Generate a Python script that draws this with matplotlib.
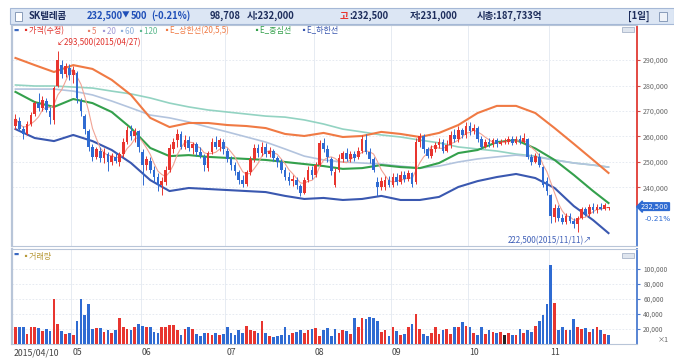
import numpy as np
import pandas as pd
import matplotlib
matplotlib.use('Agg')
import matplotlib.pyplot as plt
from matplotlib.patches import Rectangle
from matplotlib.transforms import blended_transform_factory

plt.rcParams['font.family'] = ['Noto Sans CJK KR', 'DejaVu Sans']

W, H = 674, 360

# trading days (KRX holidays removed)
holidays = ['2015-05-01', '2015-05-05', '2015-05-25', '2015-08-14',
            '2015-09-28', '2015-09-29', '2015-10-09']
dates = pd.bdate_range('2015-04-10', '2015-11-23')
dates = dates[~dates.isin(pd.to_datetime(holidays))]

# daily prices, thousand won
opens = [264, 266, 263, 261, 265, 269, 273, 271, 274, 270,
         266.5, 280, 288, 284.5, 287, 284, 285, 274, 268, 262,
         256, 252, 254.5, 251.5, 253, 250, 252, 250, 253, 258,
         262, 260, 262, 254, 249, 250.5, 247, 244, 241, 242,
         247, 255, 258.5, 261, 256, 258.5, 255.5, 257, 254, 252,
         247.5, 254, 258, 256, 258, 254.5, 251, 249, 246, 243,
         241.5, 246, 251, 255.5, 253.5, 256, 253, 254.5, 251.5, 250,
         247, 244, 242.5, 243, 240.5, 238, 243, 247, 245, 249,
         257.5, 255, 251, 241, 247, 251, 253.5, 251, 253, 252,
         254.5, 258.5, 254, 251, 242, 240, 240, 243, 241, 244,
         242, 245, 243.5, 245.5, 242, 258, 260, 255, 252.5, 255,
         256.5, 258, 254.5, 256.5, 260.5, 259, 262.5, 260.5, 264, 262,
         263.5, 259, 256, 258, 257, 258.5, 257, 258, 258, 259,
         257.5, 259, 258, 259, 252, 250, 252, 248, 242.5, 237,
         228.5, 232, 228, 226.5, 229, 227, 225.5, 228, 231.5, 229.5,
         232.5, 231, 232.5, 231.5, 232]
highs = [269, 267.5, 264, 266, 269.5, 274, 277, 276, 275, 271.5,
         280, 293.5, 290, 289, 288.5, 287.5, 285.5, 275, 269, 263,
         257, 256, 256, 255.5, 254, 253.5, 254, 254, 259.5, 264,
         264.5, 263.5, 262.5, 255, 252.5, 252, 248.5, 245.5, 244, 248.5,
         257, 259.5, 263, 262, 260.5, 260, 258, 258, 256, 253,
         254.5, 259.5, 260, 259.5, 259, 255.5, 252.5, 250, 247, 245,
         247, 252.5, 257, 257, 258, 257.5, 256, 255, 252.5, 251,
         248, 246, 245, 244, 241.5, 244, 248.5, 248.5, 250, 258.5,
         259.5, 256.5, 252, 247.5, 253, 254.5, 255.5, 254.5, 254.5, 256,
         260.5, 261, 255.5, 252, 244, 244, 244.5, 244.5, 245.5, 245.5,
         246.5, 246.5, 247, 246, 259.5, 261.5, 261, 256, 256.5, 258,
         259.5, 259, 258.5, 262, 263, 264, 263.5, 265.5, 265.5, 265,
         264, 260, 259, 259.5, 259.5, 259.5, 259, 259.5, 260, 260,
         260, 260.5, 261.5, 259.5, 253, 253.5, 253.5, 248.5, 244, 237.5,
         233.5, 233, 229.5, 230, 230, 228, 229, 232.5, 232.5, 233.5,
         234, 233.5, 234, 234, 232.5]
lows = [263, 262, 259, 260.5, 264, 268, 270, 270, 269.5, 265,
        265, 279.5, 283, 283.5, 282, 281, 273, 268, 261, 254.5,
        250.5, 251, 250, 249.5, 246.5, 249, 249.5, 248.5, 252, 257,
        258.5, 258, 254, 241, 247, 245.5, 242, 238.5, 237, 241,
        246, 253.5, 256, 255, 255, 254.5, 253, 252.5, 251.5, 246.5,
        246.5, 253, 255, 254.5, 253, 250, 247, 245, 241.5, 240,
        240.5, 245, 250, 252, 252.5, 252, 252, 250.5, 248, 245.5,
        243, 241, 240.5, 239.5, 236.5, 237.5, 242, 243.5, 244, 248.5,
        254, 250, 245, 240, 246, 250, 250.5, 250, 250.5, 251,
        253.5, 253, 249.5, 246, 236.5, 239, 239, 240, 240, 241,
        241.5, 242, 242.5, 240, 241.5, 256, 253.5, 251.5, 251.5, 254,
        255.5, 253.5, 254, 255.5, 258, 258, 259.5, 259.5, 260.5, 261,
        258, 255, 255.5, 256, 256, 256, 256.5, 257, 257, 256.5,
        257, 257, 257.5, 251, 249, 249.5, 248, 240, 237, 226,
        226.5, 227, 225.5, 225.5, 226, 224, 222.5, 227.5, 229, 229,
        230, 230, 231, 231, 231]
closes = [267, 263, 261, 265, 268.5, 273, 271, 274.5, 270.5, 267.5,
          279, 290, 284.5, 287.5, 284, 286, 275, 270, 263, 256,
          252, 255, 251.5, 254, 250, 252.5, 250.5, 253, 258, 262.5,
          260, 262, 256, 249, 251, 247, 244, 241, 242.5, 247,
          255.5, 258, 261, 256, 258.5, 255.5, 257, 254, 252.5, 249,
          253.5, 258, 256, 258.5, 255, 251, 249, 246.5, 243, 241.5,
          246, 251, 255.5, 253.5, 256, 253, 254.5, 251.5, 250, 247,
          244, 242.5, 243.5, 241, 238, 243, 247, 245, 249, 257.5,
          255, 252, 246.5, 246, 251.5, 253.5, 251, 253, 251.5, 254.5,
          259, 254, 251, 247, 240, 242.5, 243, 241, 244, 242,
          245, 243.5, 245.5, 241.5, 258, 260, 255, 252.5, 255, 256.5,
          258, 254.5, 256.5, 260.5, 259, 262.5, 260.5, 264, 262, 263.5,
          259, 256, 258, 257, 258.5, 257, 258, 258, 259, 257.5,
          259, 258, 259.5, 252, 250, 252.5, 249, 241, 238.5, 229,
          232, 228, 226.5, 229, 227, 225.5, 228, 231.5, 229.5, 232.5,
          231, 232.5, 231.5, 233, 232.5]

# volume, thousand shares
volumes = [22, 23, 23, 13, 22, 22, 21, 17, 20, 17,
           60, 27, 17, 13, 14, 12, 30, 60, 38, 53,
           20, 21, 21, 16, 19, 15, 18, 35, 23, 20,
           19, 23, 26, 24, 22, 22, 16, 14, 23, 23,
           25, 25, 19, 12, 20, 23, 20, 13, 10, 14,
           14, 12, 15, 12, 13, 22, 14, 12, 19, 14,
           24, 18, 17, 15, 30, 14, 11, 9, 10, 12,
           22, 12, 14, 16, 19, 14, 19, 20, 21, 11,
           18, 21, 11, 20, 14, 18, 17, 13, 35, 22,
           34, 33, 36, 34, 31, 16, 18, 10, 22, 17,
           12, 13, 22, 27, 40, 20, 13, 10, 14, 22,
           13, 18, 20, 13, 23, 22, 29, 24, 22, 15,
           12, 22, 13, 18, 16, 14, 16, 12, 14, 12,
           12, 20, 14, 19, 16, 24, 31, 38, 53, 105,
           55, 19, 23, 18, 18, 33, 22, 20, 21, 16,
           20, 23, 18, 13, 12]

# indicator lines read every 5 sessions (thousand won)
line_idx = list(range(0, 155, 5)) + [154]
env_upper = [290.8, 288.0, 285.3, 288.0, 286.5, 282.2, 276.3, 267.3, 263.7, 265.3,
             265.3, 264.5, 264.1, 263.3, 261.0, 260.2, 261.4, 259.8, 260.2, 261.8,
             261.0, 259.8, 261.4, 264.5, 269.2, 272.0, 272.0, 269.2, 263.3, 257.1,
             250.8, 245.7]
env_mid = [277.5, 273.5, 271.6, 274.7, 273.1, 269.6, 263.3, 255.5, 252.3, 252.7,
           252.0, 251.6, 251.2, 250.8, 250.0, 249.2, 248.4, 247.3, 247.6, 248.8,
           248.0, 247.6, 249.6, 253.5, 254.7, 257.8, 258.6, 255.3, 250.8, 244.9,
           238.6, 233.9]
env_lower = [262.9, 259.4, 258.2, 260.6, 258.2, 254.7, 249.6, 242.9, 238.6, 239.8,
             239.4, 239.0, 238.6, 238.2, 236.7, 235.5, 235.9, 235.1, 235.5, 236.7,
             235.1, 235.1, 236.3, 240.2, 242.5, 244.1, 245.3, 243.7, 239.8, 232.7,
             227.2, 222.1]
ma60 = [278.6, 278.6, 278.6, 277.8, 276.3, 273.9, 271.2, 268.4, 267.3, 265.7,
        263.7, 261.8, 259.8, 257.8, 255.1, 252.3, 250.8, 250.0, 249.6, 249.2,
        248.4, 247.6, 248.4, 250.0, 251.2, 252.0, 252.7, 252.0, 250.8, 249.6,
        248.8, 248.0]
ma120 = [280.2, 279.8, 279.8, 279.4, 279.0, 277.8, 276.7, 275.1, 273.1, 271.6,
         270.4, 269.6, 268.8, 268.0, 267.6, 266.5, 264.9, 262.9, 261.8, 260.6,
         259.8, 258.6, 257.5, 255.9, 255.1, 254.3, 253.1, 252.3, 250.8, 249.6,
         248.8, 248.0]

price_ticks = [240000, 250000, 260000, 270000, 280000, 290000]
vol_ticks = [20000, 40000, 60000, 80000, 100000]

UP = '#e8352f'
DN = '#2f6bd2'


def fx(px):
    return px / W


def fy(py):
    return 1 - py / H


def main():
    o = np.array(opens) * 1000
    h = np.array(highs) * 1000
    l = np.array(lows) * 1000
    c = np.array(closes) * 1000
    v = np.array(volumes) * 1000
    x = np.arange(len(c))
    ma5 = pd.Series(c).rolling(5, min_periods=1).mean()

    fig = plt.figure(figsize=(W / 100, H / 100), dpi=100)
    fig.patch.set_facecolor('white')

    # header bar
    fig.patches.append(Rectangle((fx(10), fy(24)), 664 / W, 16 / H, transform=fig.transFigure,
                                 facecolor='#dce6f4', edgecolor='#a5b8d6', lw=0.8))
    fig.patches.append(Rectangle((fx(15), fy(21)), 7 / W, 9 / H, transform=fig.transFigure,
                                 facecolor='white', edgecolor='#7a8fb0', lw=0.6))

    def put(px, py, s, **kw):
        kw.setdefault('va', 'center')
        fig.text(fx(px), fy(py), s, **kw)

    hk = dict(fontsize=6.8, fontweight='bold', color='#1d2d5c')
    put(29, 16, 'SK텔레콤', **hk)
    put(87, 16, '232,500', fontsize=6.8, fontweight='bold', color='#1f4fb8')
    put(122, 16, '▼', fontsize=5.5, color='#1f4fb8')
    put(131, 16, '500', fontsize=6.8, fontweight='bold', color='#1f4fb8')
    put(151, 16, '(-0.21%)', fontsize=6.8, fontweight='bold', color='#1f4fb8')
    put(210, 16, '98,708', **hk)
    put(247, 16, '시:232,000', **hk)
    put(340, 16, '고', fontsize=6.8, fontweight='bold', color='#e8352f')
    put(349, 16, ':232,500', **hk)
    put(410, 16, '저:231,000', **hk)
    put(477, 16, '시총:187,733억', **hk)
    put(628, 16, '[1일]', **hk)
    fig.patches.append(Rectangle((fx(659), fy(21)), 8 / W, 9 / H, transform=fig.transFigure,
                                 facecolor='#eef2f8', edgecolor='#7a8fb0', lw=0.6))

    month_pos = [i - 0.5 for i in range(1, len(dates)) if dates[i].month != dates[i - 1].month]
    xlim = (-0.9, 161.4)

    # price panel
    ax = fig.add_axes([fx(12), fy(246), (637 - 12) / W, (246 - 25) / H])
    ax.set_xlim(*xlim)
    ax.set_ylim(217050, 303730)
    for yt in price_ticks:
        ax.axhline(yt, color='#e2e7ef', lw=0.6, ls=(0, (2, 2)), zorder=0)
    for mp in month_pos:
        ax.axvline(mp, color='#e6ebf2', lw=0.7, zorder=0)

    ax.plot(line_idx, np.array(ma120) * 1000, color='#93d3c2', lw=1.2, zorder=1)
    ax.plot(line_idx, np.array(ma60) * 1000, color='#b3c4de', lw=1.2, zorder=1)
    ax.plot(line_idx, np.array(env_upper) * 1000, color='#f07a44', lw=1.5, zorder=2)
    ax.plot(line_idx, np.array(env_mid) * 1000, color='#34a04c', lw=1.5, zorder=2)
    ax.plot(line_idx, np.array(env_lower) * 1000, color='#3a58b0', lw=1.5, zorder=2)
    ax.plot(x, ma5, color='#f1a394', lw=0.8, zorder=3)

    cols = np.where(c >= o, UP, DN)
    ax.vlines(x, l, h, colors=cols, lw=0.7, zorder=4)
    body = np.maximum(np.abs(c - o), 250)
    ax.bar(x, body, bottom=np.minimum(o, c), width=0.7, color=cols, zorder=5)

    ax.yaxis.tick_right()
    ax.set_yticks(price_ticks)
    ax.set_yticklabels([f'{t:,}' for t in price_ticks])
    ax.tick_params(axis='y', length=2, pad=2.5, labelsize=5.1, labelcolor='#666666', color='#c8504a')
    ax.set_xticks([])
    for s in ['top', 'left', 'bottom']:
        ax.spines[s].set_color('#b8c5d8')
    ax.spines['left'].set_linewidth(1.6)
    ax.spines['right'].set_visible(False)
    tr = blended_transform_factory(ax.transAxes, ax.transData)
    ax.plot([1, 1], [closes[-1] * 1000, 303730], color='#e03a34', lw=1.3, transform=tr, clip_on=False)
    ax.plot([1, 1], [217050, closes[-1] * 1000], color='#4a7bd0', lw=1.3, transform=tr, clip_on=False)
    ax.text(1.006, closes[-1] * 1000, '232,500', transform=tr, fontsize=4.9, color='white',
            va='center', ha='left', family='DejaVu Sans',
            bbox=dict(boxstyle='larrow,pad=0.12', fc='#2f6bd2', ec='#2f6bd2'))
    ax.text(1.012, closes[-1] * 1000 - 4700, '-0.21%', transform=tr, fontsize=5.3,
            color='#2f6bd2', va='center', ha='left', family='DejaVu Sans')

    # legend
    lk = dict(fontsize=5.8, va='center')
    put(13, 30, '▬', fontsize=4, color='#3a68c0')
    items = [(21, '▪가격(수정)', '#e0302a'), (84, '▪5', '#e8806a'), (99, '▪20', '#a29ad6'),
             (117, '▪60', '#8fb0dc'), (136, '▪120', '#5cb98e'),
             (162, '▪E_상한선(20,5,5)', '#f07a44'), (252, '▪E_중심선', '#34a04c'),
             (299, '▪E_하한선', '#3a58b0')]
    for px, s, col in items:
        put(px, 31, s, color=col, **lk)
    put(57, 43, '↙293,500(2015/04/27)', color='#e0302a', **lk)
    put(592, 241, '222,500(2015/11/11)↗', color='#4060b8', ha='right', **lk)
    fig.patches.append(Rectangle((fx(622), fy(32)), 12 / W, 5 / H, transform=fig.transFigure,
                                 facecolor='#dfe5ee', edgecolor='#9aa8c0', lw=0.5))

    # volume panel
    axv = fig.add_axes([fx(12), fy(344), (637 - 12) / W, (344 - 249) / H])
    axv.set_xlim(*xlim)
    axv.set_ylim(0, 126600)
    for yt in vol_ticks:
        axv.axhline(yt, color='#e2e7ef', lw=0.6, ls=(0, (2, 2)), zorder=0)
    for mp in month_pos:
        axv.axvline(mp, color='#e6ebf2', lw=0.7, zorder=0)
    prev = np.r_[c[0] - 1, c[:-1]]
    vcols = np.where(c > prev, UP, np.where(c < prev, DN, '#222222'))
    axv.bar(x, v, width=0.7, color=vcols, zorder=3)
    axv.yaxis.tick_right()
    axv.set_yticks(vol_ticks)
    axv.set_yticklabels([f'{t:,}' for t in vol_ticks])
    axv.tick_params(axis='y', length=2, pad=2.5, labelsize=4.8, labelcolor='#666666', color='#4a7bd0')
    axv.set_xticks([])
    for s in ['top', 'left', 'bottom']:
        axv.spines[s].set_color('#b8c5d8')
    axv.spines['left'].set_linewidth(1.6)
    axv.spines['right'].set_color('#4a7bd0')
    axv.spines['right'].set_linewidth(1.3)
    put(13, 254, '▬', fontsize=4, color='#3a68c0')
    put(21, 256, '▪거래량', color='#b89a3a', **lk)
    put(658, 340, '×1', fontsize=5.1, color='#666666')
    fig.patches.append(Rectangle((fx(622), fy(258)), 12 / W, 5 / H, transform=fig.transFigure,
                                 facecolor='#dfe5ee', edgecolor='#9aa8c0', lw=0.5))

    # date labels
    trv = blended_transform_factory(axv.transData, axv.transAxes)
    axv.text(-0.4, -0.09, '2015/04/10', transform=trv, fontsize=6.3, color='#444444',
             ha='left', va='center')
    for mp in month_pos:
        axv.text(mp + 0.3, -0.09, f'{dates[int(mp + 0.5)].month:02d}', transform=trv,
                 fontsize=6.3, color='#444444', ha='left', va='center')

    plt.savefig('out.png', dpi=100)


if __name__ == '__main__':
    main()
